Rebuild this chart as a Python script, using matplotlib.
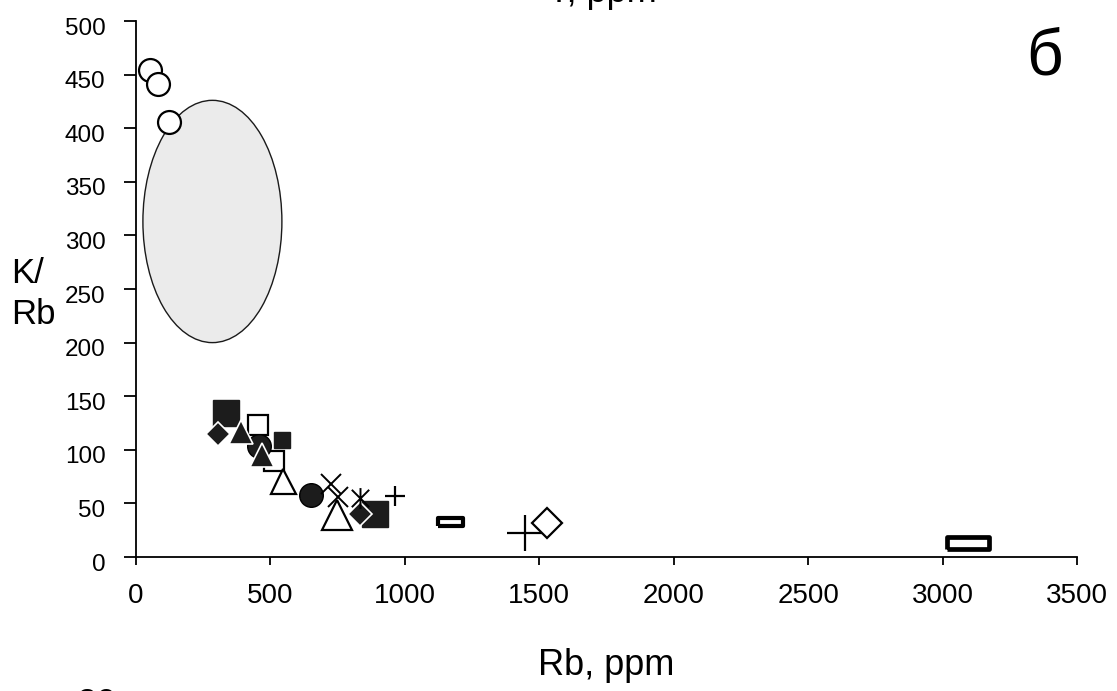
import matplotlib
matplotlib.use("Agg")
import matplotlib.pyplot as plt
import matplotlib.transforms as mtransforms
from matplotlib.patches import Ellipse
from matplotlib.path import Path

plt.rcParams['font.family'] = ['Liberation Sans', 'DejaVu Sans']

# data (Rb ppm, K/Rb)
open_circle_x = [52, 82, 123]
open_circle_y = [454, 441, 406]
field_center = (284, 313)
field_size = (517, 226)

big_fsquare_x = [335, 889]
big_fsquare_y = [134, 40]
small_fsquare_x = [543]
small_fsquare_y = [109]
osquare_x = [454, 513]
osquare_y = [123, 90]
fdiamond_x = [305, 833]
fdiamond_y = [115, 40]
ftri_x = [390, 469]
ftri_y = [117, 95]
fcircle_x = [457, 651]
fcircle_y = [104, 58]
otri_x = [547, 747]
otri_y = [71, 39]
otri_sizes = [18, 22]
xmark_x = [725, 751]
xmark_y = [68, 56]
star_x = [833]
star_y = [55]
splus_x = [963]
splus_y = [57]
bplus_x = [1447]
bplus_y = [22]
odiamond_x = [1528]
odiamond_y = [32]
rect_small_x = [1168]
rect_small_y = [33]
rect_big_x = [3094]
rect_big_y = [13]

xticks = [0, 500, 1000, 1500, 2000, 2500, 3000, 3500]
yticks = [0, 50, 100, 150, 200, 250, 300, 350, 400, 450, 500]

dark = '#1c1c1c'

fig = plt.figure(figsize=(11.17, 6.91), dpi=100)
ax = fig.add_axes([0.1218, 0.1939, 0.8424, 0.7757])
ax.set_xlim(0, 3500)
ax.set_ylim(0, 500)

ax.add_patch(Ellipse(field_center, field_size[0], field_size[1],
                     facecolor='#ebebeb', edgecolor='#1a1a1a', lw=1.0, zorder=1))

ax.plot(open_circle_x, open_circle_y, 'o', ms=16.5, mfc='white', mec='black', mew=1.6, ls='none', zorder=3)

ax.plot(big_fsquare_x, big_fsquare_y, 's', ms=19, mfc=dark, mec=dark, ls='none', zorder=2)
ax.plot(small_fsquare_x, small_fsquare_y, 's', ms=12, mfc=dark, mec=dark, ls='none', zorder=2)
ax.plot(osquare_x, osquare_y, 's', ms=15, mfc='white', mec='black', mew=1.6, ls='none', zorder=2)
ax.plot(fcircle_x, fcircle_y, 'o', ms=17, mfc=dark, mec='black', mew=1.0, ls='none', zorder=3)
ax.plot(ftri_x, ftri_y, '^', ms=17, mfc=dark, mec='white', mew=1.2, ls='none', zorder=4)
ax.plot(fdiamond_x, fdiamond_y, 'D', ms=12, mfc=dark, mec='white', mew=1.2, ls='none', zorder=4)
for x, y, s in zip(otri_x, otri_y, otri_sizes):
    ax.plot([x], [y], '^', ms=s, mfc='white', mec='black', mew=1.6, ls='none', zorder=3)
ax.plot(xmark_x, xmark_y, 'x', ms=15, mec='black', mew=1.4, ls='none', zorder=4)
star_path = Path([(-1, -1), (1, 1), (-1, 1), (1, -1), (0, -1.2), (0, 1.2)],
                 [Path.MOVETO, Path.LINETO, Path.MOVETO, Path.LINETO, Path.MOVETO, Path.LINETO])
ax.plot(star_x, star_y, marker=star_path, ms=15, mec='black', mew=1.4, ls='none', zorder=5)
ax.plot(splus_x, splus_y, '+', ms=14.5, mec='black', mew=1.6, ls='none', zorder=4)
ax.plot(bplus_x, bplus_y, '+', ms=26, mec='black', mew=1.6, ls='none', zorder=4)
ax.plot(odiamond_x, odiamond_y, 'D', ms=15, mfc='white', mec='black', mew=1.6, ls='none', zorder=4)

rect_small = [(-1, -0.28), (1, -0.28), (1, 0.28), (-1, 0.28), (-1, -0.28)]
rect_big = [(-1, -0.27), (1, -0.27), (1, 0.27), (-1, 0.27), (-1, -0.27)]
ax.plot(rect_small_x, rect_small_y, marker=rect_small, ms=18, mfc='white', mec='black', mew=3, ls='none', zorder=4)
ax.plot(rect_big_x, rect_big_y, marker=rect_big, ms=30.5, mfc='white', mec='black', mew=3.4, ls='none', zorder=4)

ax.spines['top'].set_visible(False)
ax.spines['right'].set_visible(False)
ax.spines['left'].set_linewidth(1.3)
ax.spines['bottom'].set_linewidth(1.3)
ax.set_xticks(xticks)
ax.set_yticks(yticks)
ax.tick_params(axis='x', direction='out', length=6, width=1.3, labelsize=20, pad=13)
ax.tick_params(axis='y', direction='out', length=9, width=1.3, labelsize=17.5, pad=13)

shift = mtransforms.ScaledTranslation(0, -5 / 100, fig.dpi_scale_trans)
for t in ax.yaxis.get_major_ticks():
    t.label1.set_transform(t.label1.get_transform() + shift)

fig.text(0.543, 1 - 675 / 691, 'Rb, ppm', fontsize=26, ha='center', va='baseline')
fig.text(0.010, 0.574, 'K/\nRb', fontsize=25, ha='left', va='center', linespacing=1.3)
fig.text(0.935, 0.917, 'б', fontsize=46, ha='center', va='center')
fig.text(0.539, 1 - 1.5 / 691, 'Y, ppm', fontsize=26, ha='center', va='baseline')
fig.text(0.086, 1 - 715 / 691, '20', fontsize=26, ha='center', va='baseline')

fig.savefig('out.png', dpi=100)
